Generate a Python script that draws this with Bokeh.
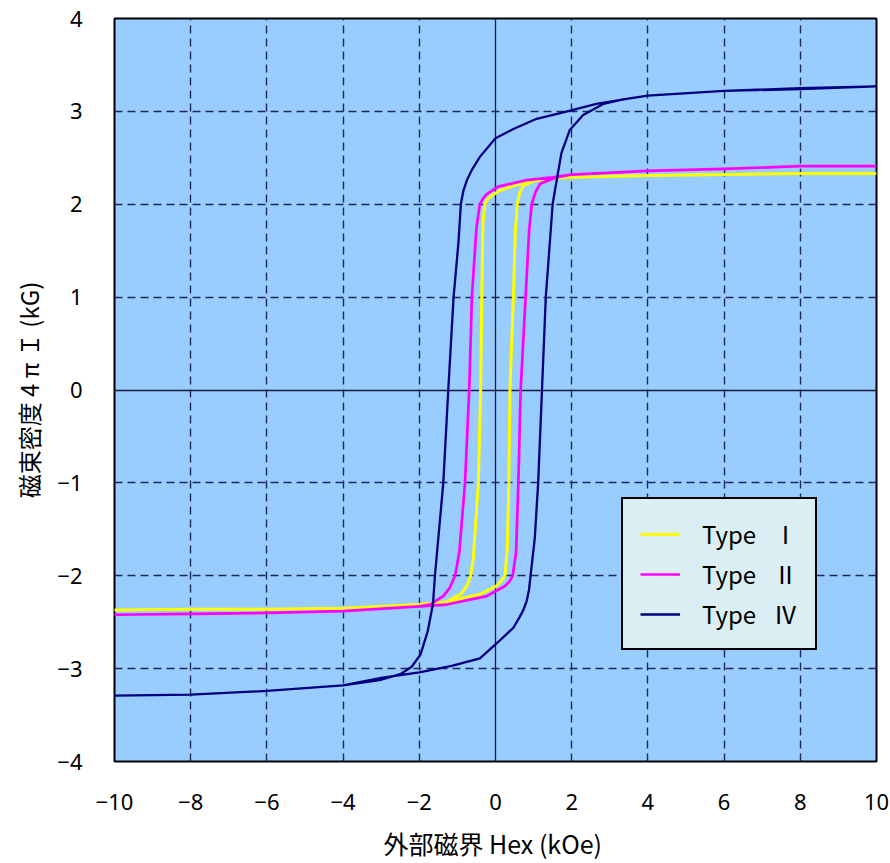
from bokeh.plotting import figure
from bokeh.models import Range1d, Legend, LegendItem, Grid, FixedTicker
from bokeh.embed import file_html
from bokeh.resources import INLINE

# Hysteresis loops: descending branch (H from +10 to -10), then ascending branch (H from -10 to +10)
# Type I
t1_down_h = [10, 8, 6, 4, 2, 1.4, 0.64, 0.12, -0.14, -0.21, -0.28, -0.33, -0.36, -0.39, -0.45, -0.58, -0.65,
             -0.75, -0.89, -1.28, -2, -4, -6, -8, -10]
t1_down_b = [2.33, 2.33, 2.32, 2.31, 2.29, 2.28, 2.22, 2.15, 2.08, 2.05, 2.0, 1.8, 1.0, 0.0, -1.0, -1.8, -2.0,
             -2.11, -2.19, -2.28, -2.31, -2.35, -2.36, -2.36, -2.37]
t1_up_h = [-10, -8, -6, -4, -2, -1.28, -0.41, 0.03, 0.18, 0.25, 0.31, 0.35, 0.38, 0.47, 0.52, 0.57,
           0.64, 0.73, 1.0, 1.43, 2, 4, 6, 8, 10]
t1_up_b = [-2.37, -2.36, -2.36, -2.35, -2.31, -2.28, -2.20, -2.11, -2.04, -2.0, -1.7, -1.0, 0.0, 1.0, 1.7, 2.0,
           2.13, 2.2, 2.25, 2.28, 2.29, 2.31, 2.32, 2.33, 2.33]

# Type II
t2_down_h = [10, 8, 6, 4, 2, 1.5, 0.82, 0.07, -0.23, -0.33, -0.41, -0.5, -0.62, -0.69, -0.8, -0.95, -1.06,
             -1.2, -1.37, -1.72, -2, -4, -6, -8, -10]
t2_down_b = [2.41, 2.41, 2.38, 2.36, 2.32, 2.29, 2.26, 2.19, 2.11, 2.06, 2.0, 1.75, 1.0, 0.0, -1.0, -1.75, -2.0,
             -2.13, -2.22, -2.31, -2.33, -2.38, -2.40, -2.41, -2.42]
t2_up_h = [-10, -8, -6, -4, -2, -1.28, -0.23, 0.25, 0.37, 0.45, 0.54, 0.6, 0.66, 0.79, 0.88, 0.95, 1.05,
           1.17, 1.6, 2, 4, 6, 8, 10]
t2_up_b = [-2.42, -2.41, -2.40, -2.38, -2.33, -2.31, -2.22, -2.11, -2.06, -2.0, -1.75, -1.0, 0.0, 1.0, 1.7, 2.0, 2.13,
           2.22, 2.29, 2.32, 2.36, 2.38, 2.41, 2.41]

# Type IV
t4_down_h = [10, 8, 6, 4, 3.53, 2.65, 1.78, 1.08, 0.47, 0, -0.41, -0.62, -0.74, -0.84, -0.91, -0.97, -1.1, -1.24,
             -1.37, -1.59, -1.64, -1.78, -1.97, -2.2, -2.5, -3, -4, -6, -8, -10]
t4_down_b = [3.27, 3.24, 3.22, 3.17, 3.14, 3.08, 2.99, 2.92, 2.81, 2.71, 2.51, 2.37, 2.27, 2.15, 2.0, 1.6, 1.0, 0.0,
             -1.0, -2.0, -2.3, -2.6, -2.85, -2.98, -3.06, -3.12, -3.18, -3.24, -3.28, -3.29]
t4_up_h = [-10, -8, -6, -4, -3, -2, -1.15, -0.41, 0, 0.47, 0.64, 0.73, 0.82, 0.88, 0.92, 1.03, 1.12, 1.22,
           1.32, 1.5, 1.56, 1.73, 1.95, 2.30, 2.83, 3.35, 4, 6, 8, 10]
t4_up_b = [-3.29, -3.28, -3.24, -3.18, -3.10, -3.04, -2.97, -2.89, -2.74, -2.56, -2.44, -2.37, -2.27, -2.15, -2.0, -1.6,
           -1.0, 0.0, 1.0, 2.0, 2.15, 2.55, 2.80, 2.96, 3.08, 3.13, 3.17, 3.22, 3.25, 3.27]

x_ticks = [-10, -8, -6, -4, -2, 0, 2, 4, 6, 8, 10]
y_ticks = [-4, -3, -2, -1, 0, 1, 2, 3, 4]
series_labels = ["Type\u2002 \u2160", "Type\u2002 \u2161", "Type\u2002 \u2163"]
series_colors = ["#FFFF00", "#FF00FF", "#000080"]
series_widths = [3.0, 2.7, 2.3]

CJK = "Noto Sans CJK JP"
GRID_COLOR = "#1C2A55"

p = figure(width=890, height=863,
           x_range=Range1d(-10, 10), y_range=Range1d(-4, 4),
           output_backend="svg", toolbar_location=None,
           min_border_left=114, min_border_right=14,
           min_border_top=18, min_border_bottom=101)

p.background_fill_color = "#99CCFF"
p.border_fill_color = "white"
p.outline_line_color = "black"
p.outline_line_width = 2
p.outline_line_alpha = 1.0

# dashed grid, without the zero lines
p.xgrid.ticker = FixedTicker(ticks=[t for t in x_ticks if t not in (0, -10, 10)])
p.ygrid.ticker = FixedTicker(ticks=[t for t in y_ticks if t not in (0, -4, 4)])
for g in (p.xgrid, p.ygrid):
    g.grid_line_color = GRID_COLOR
    g.grid_line_width = 1.4
    g.grid_line_dash = "8 5"

# solid zero lines
p.add_layout(Grid(dimension=0, ticker=FixedTicker(ticks=[0]),
                  grid_line_color="#1A1A3A", grid_line_width=1.3))
p.add_layout(Grid(dimension=1, ticker=FixedTicker(ticks=[0]),
                  grid_line_color="#1A1A3A", grid_line_width=1.3))

# axes
p.xaxis.ticker = FixedTicker(ticks=x_ticks)
p.yaxis.ticker = FixedTicker(ticks=y_ticks)
p.xaxis.major_label_overrides = {t: str(t).replace("-", "\u2212") for t in x_ticks}
p.yaxis.major_label_overrides = {t: str(t).replace("-", "\u2212") for t in y_ticks}
for ax in (p.xaxis, p.yaxis):
    ax.axis_line_color = None
    ax.major_tick_line_color = None
    ax.minor_tick_line_color = None
    ax.major_label_text_font = "Noto Sans"
    ax.major_label_text_font_size = "22px"
    ax.major_label_text_color = "black"
    ax.axis_label_text_font = CJK
    ax.axis_label_text_font_style = "normal"
    ax.axis_label_text_color = "black"
p.xaxis.axis_label_text_font_size = "25px"
p.yaxis.axis_label_text_font_size = "24px"
p.xaxis.major_label_standoff = 26
p.yaxis.major_label_standoff = 26
p.xaxis.axis_label = "外部磁界  Hex (kOe)"
p.yaxis.axis_label = "磁束密度 4 π Ｉ (kG)"
p.xaxis.axis_label_standoff = 12
p.yaxis.axis_label_standoff = 8

loops = [
    (t1_down_h + t1_up_h, t1_down_b + t1_up_b),
    (t2_down_h + t2_up_h, t2_down_b + t2_up_b),
    (t4_down_h + t4_up_h, t4_down_b + t4_up_b),
]
renderers = []
for (hx, by), color, lw in zip(loops, series_colors, series_widths):
    r = p.line(hx, by, line_color=color, line_width=lw, line_join="round")
    renderers.append(r)

legend = Legend(
    items=[LegendItem(label=lab, renderers=[r]) for lab, r in zip(series_labels, renderers)],
    location=(507, 111),
    border_line_color="black", border_line_width=2, border_line_alpha=1.0,
    background_fill_color="#DAEEF3", background_fill_alpha=1.0,
    label_text_font=CJK, label_text_font_size="24px", label_text_color="black",
    glyph_width=40, glyph_height=24, label_height=24, spacing=5,
    padding=17, label_standoff=22, margin=0,
)
p.add_layout(legend)

open("out.html", "w").write(file_html(p, INLINE))
